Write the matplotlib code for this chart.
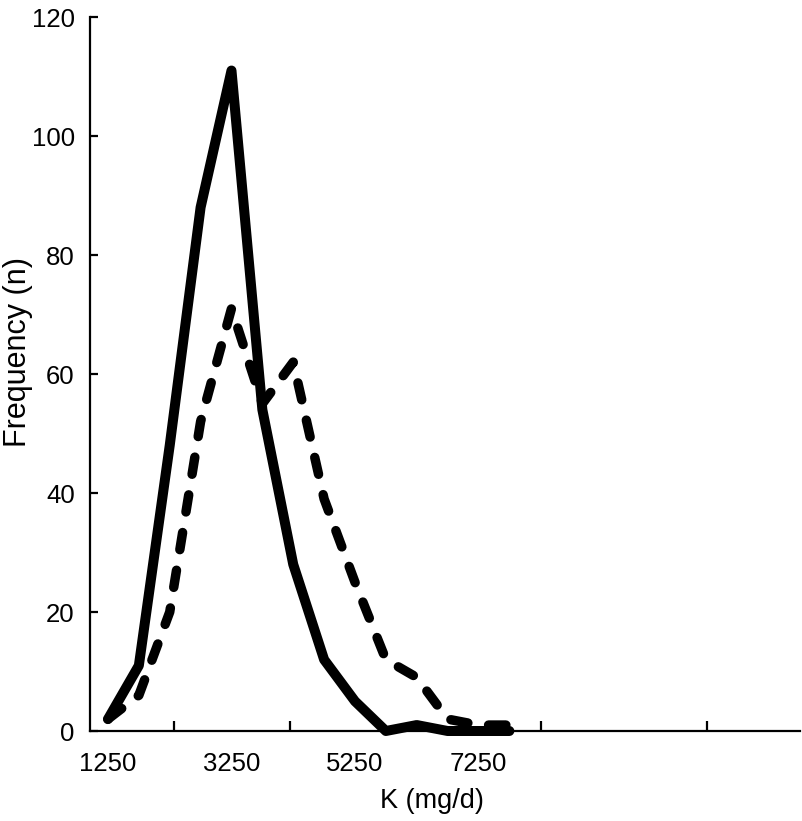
import matplotlib
matplotlib.use("Agg")
import matplotlib.pyplot as plt

plt.rcParams["font.family"] = ["Liberation Sans", "DejaVu Sans"]
plt.rcParams["lines.scale_dashes"] = False

# K intake categories (mg/d) and frequencies of the two groups
k_mgd = [1250, 1750, 2250, 2750, 3250, 3750, 4250, 4750, 5250, 5750, 6250, 6750, 7250, 7750]
freq_solid = [2, 11, 48, 88, 111, 54, 28, 12, 5, 0, 1, 0, 0, 0]
freq_dashed = [2, 6, 20, 52, 71, 55, 62, 39, 25, 12, 9, 2, 1, 1]

x_labels = [1250, 3250, 5250, 7250]
y_ticks = [0, 20, 40, 60, 80, 100, 120]

fig = plt.figure(figsize=(8.02, 8.21), dpi=100)
ax = fig.add_axes([90 / 802, 1 - 731 / 821, 710 / 802, 714 / 821])

ax.plot(k_mgd, freq_solid, color="black", linewidth=7.2,
        solid_joinstyle="round", solid_capstyle="round", clip_on=False, zorder=3)
(dash_line,) = ax.plot(k_mgd, freq_dashed, color="black", linewidth=6.8,
                       dash_capstyle="round", dash_joinstyle="round",
                       clip_on=False, zorder=3)
dash_line.set_dashes([12.5, 15])

ax.set_xlim(959, 12456)
ax.set_ylim(0, 120)

for side in ["top", "right"]:
    ax.spines[side].set_visible(False)
for side in ["left", "bottom"]:
    ax.spines[side].set_linewidth(1.6)

ax.set_yticks(y_ticks)
ax.tick_params(axis="y", direction="in", length=6, width=1.6, pad=11, labelsize=18.5)

ax.set_xticks(x_labels)
ax.set_xticks([2319, 4197, 8262, 10950], minor=True)
ax.tick_params(axis="x", which="major", length=0, pad=15, labelsize=18.5)
ax.tick_params(axis="x", which="minor", direction="in", length=7, width=1.6)

ax.set_xlabel("K (mg/d)", fontsize=19.5)
ax.set_ylabel("Frequency (n)", fontsize=22)
ax.xaxis.set_label_coords((432 - 90) / 710, -(801 - 731) / 714)
ax.yaxis.set_label_coords(-(90 - 18) / 710, (731 - 352) / 714)
ax.xaxis.label.set_va("center")
ax.yaxis.label.set_va("center")

fig.savefig("out.png", dpi=100)
